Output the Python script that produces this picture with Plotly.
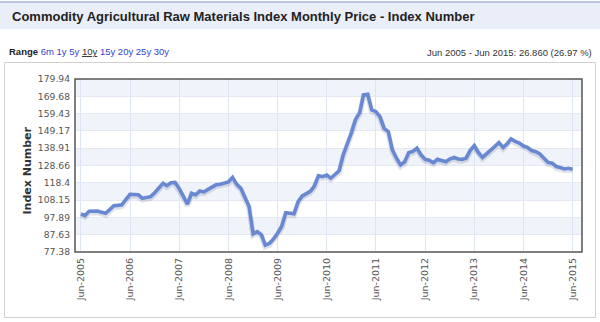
import plotly.graph_objects as go
import pandas as pd

start_month = "2005-06-01"
values = [
    99.9, 99.0, 101.5, 101.8, 101.7, 101.0, 100.3, 102.5, 104.8, 105.0,
    105.3, 108.5, 111.6, 111.5, 111.3, 109.2, 109.5, 110.2, 112.5, 115.5,
    118.1, 116.7, 118.4, 118.6, 115.0, 110.5, 105.7, 112.2, 111.3, 113.5,
    113.0, 114.5, 116.0, 117.2, 117.6, 118.2, 118.9, 121.6, 117.5, 115.1,
    110.0, 104.3, 88.1, 89.5, 87.5, 81.5, 82.5, 85.0, 88.5, 92.5,
    100.7, 100.2, 100.0, 107.2, 110.6, 112.0, 113.5, 116.5, 122.6, 122.0,
    123.0, 121.1, 123.5, 125.5, 134.9, 141.0, 148.0, 156.0, 160.0, 170.5,
    170.9, 161.6, 160.6, 157.6, 150.7, 148.7, 138.0, 133.0, 129.0, 130.9,
    136.3, 137.0, 138.9, 135.0, 132.3, 131.8, 130.3, 132.3, 131.8, 130.9,
    132.5, 133.5, 132.5, 132.3, 133.0, 137.5, 140.4, 136.3, 133.5, 135.5,
    137.9, 140.0, 142.2, 139.4, 141.5, 144.4, 143.0, 142.0, 140.2, 139.4,
    137.5, 136.8, 135.5, 133.0, 130.5, 130.0, 128.0, 127.5, 126.6, 127.0,
    126.5,
]
dates = pd.date_range(start_month, periods=len(values), freq="MS")

y_ticks = [77.38, 87.63, 97.89, 108.15, 118.4, 128.66, 138.91, 149.17, 159.43, 169.68, 179.94]
x_tick_dates = ["2005-06-01", "2006-06-01", "2007-06-01", "2008-06-01", "2009-06-01",
                "2010-06-01", "2011-06-01", "2012-06-01", "2013-06-01", "2014-06-01", "2015-06-01"]
x_tick_labels = ["Jun-2005", "Jun-2006", "Jun-2007", "Jun-2008", "Jun-2009",
                 "Jun-2010", "Jun-2011", "Jun-2012", "Jun-2013", "Jun-2014", "Jun-2015"]

title_text = "Commodity Agricultural Raw Materials Index Monthly Price - Index Number"
range_label = "Range"
range_links = ["6m", "1y", "5y", "10y", "15y", "20y", "25y", "30y"]
summary_text = "Jun 2005 - Jun 2015: 26.860 (26.97 %)"
y_title = "Index Number"

W, H = 600, 322
L, R, T, B = 75, 582, 79, 252
pw, ph = R - L, B - T

def px(x):
    return (x - L) / pw

def py(y):
    return (B - y) / ph

fig = go.Figure()

# shadow
fig.add_trace(go.Scatter(x=dates, y=[v - 0.9 for v in values], mode="lines",
                         line=dict(color="rgba(60,70,110,0.16)", width=5.5),
                         hoverinfo="skip", showlegend=False))
fig.add_trace(go.Scatter(x=dates, y=values, mode="lines",
                         line=dict(color="#6889d2", width=3.6),
                         showlegend=False))

shapes = []
# alternating bands
for i in range(len(y_ticks) - 1):
    if i % 2 == 1:
        shapes.append(dict(type="rect", xref="paper", yref="y", x0=0, x1=1,
                           y0=y_ticks[i], y1=y_ticks[i + 1], fillcolor="#f0f3fa",
                           line=dict(width=0), layer="below"))
# header band
shapes.append(dict(type="rect", xref="paper", yref="paper", x0=px(0), x1=px(600),
                   y0=py(29), y1=py(2), fillcolor="#eaeef8", line=dict(width=0), layer="below"))
shapes.append(dict(type="line", xref="paper", yref="paper", x0=px(0), x1=px(600),
                   y0=py(2), y1=py(2), line=dict(color="#a9b6dc", width=1.5)))
# chart box
shapes.append(dict(type="rect", xref="paper", yref="paper", x0=px(4.5), x1=px(595.5),
                   y0=py(317.5), y1=py(62.5), line=dict(color="#d0d0d0", width=1),
                   fillcolor="rgba(0,0,0,0)", layer="below"))
# plot border
shapes.append(dict(type="rect", xref="paper", yref="paper", x0=0, x1=1, y0=0, y1=1,
                   line=dict(color="#555555", width=1.5), fillcolor="rgba(0,0,0,0)"))

annotations = [
    dict(text="<b>" + title_text + "</b>", xref="paper", yref="paper", x=px(10), y=py(16),
         xanchor="left", yanchor="middle", showarrow=False,
         font=dict(family="Liberation Sans, Arial", size=13, color="#222222")),
    dict(text="<b>" + range_label + "</b> " + " ".join(
        ("<span style='color:#333'><u>" + r + "</u></span>") if r == "10y"
        else ("<span style='color:#3344cc'>" + r + "</span>") for r in range_links),
         xref="paper", yref="paper", x=px(7), y=py(52), xanchor="left", yanchor="middle",
         showarrow=False, font=dict(family="Liberation Sans, Arial", size=9.5, color="#222222")),
    dict(text=summary_text, xref="paper", yref="paper", x=px(594), y=py(53),
         xanchor="right", yanchor="middle", showarrow=False,
         font=dict(family="Liberation Sans, Arial", size=9.5, color="#333333")),
    dict(text="<b>" + y_title + "</b>", xref="paper", yref="paper", x=px(26.5), y=py(171),
         xanchor="center", yanchor="middle", textangle=-90, showarrow=False,
         font=dict(family="DejaVu Sans", size=11, color="#333333")),
]

fig.update_layout(
    width=W, height=H,
    margin=dict(l=L, r=W - R, t=T, b=H - B, pad=0),
    paper_bgcolor="white", plot_bgcolor="white",
    shapes=shapes, annotations=annotations,
    xaxis=dict(range=["2005-04-18", "2015-08-10"], tickvals=x_tick_dates, ticktext=x_tick_labels,
               tickangle=-90, showgrid=True, gridcolor="#dde4f4", gridwidth=1,
               zeroline=False, showline=False, ticks="", ticklabelstandoff=3,
               tickfont=dict(family="DejaVu Sans", size=9.5, color="#555555")),
    yaxis=dict(range=[77.38, 179.94], tickvals=y_ticks, ticktext=[str(t) for t in y_ticks],
               showgrid=True, gridcolor="#e4e8f3", gridwidth=1, zeroline=False, showline=False,
               ticks="", ticklabelstandoff=4,
               tickfont=dict(family="DejaVu Sans", size=9.2, color="#555555")),
)

fig.write_html("out.html")
